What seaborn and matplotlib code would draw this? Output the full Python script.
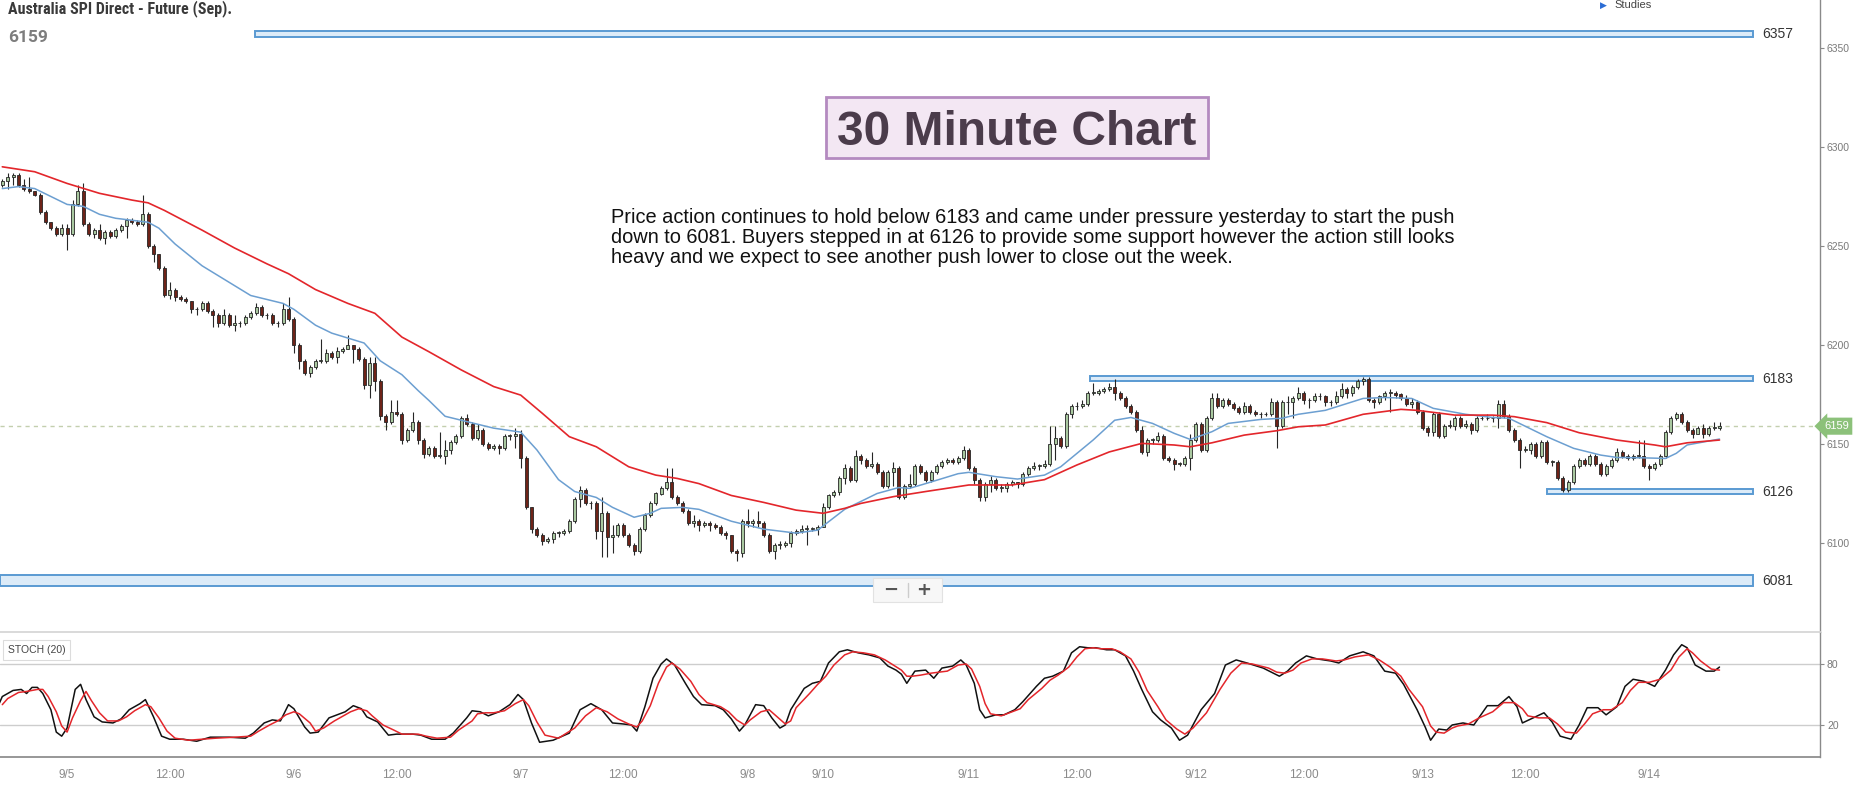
import matplotlib
matplotlib.use("Agg")
import numpy as np
import pandas as pd
import matplotlib.pyplot as plt
from matplotlib.patches import Rectangle
from matplotlib.lines import Line2D
from matplotlib import font_manager
import seaborn as sns

# ---- values: 30 minute bars, 9/4 night session to 9/14 morning ----
first_open = 6281
closes = [6283, 6285, 6286, 6281, 6279, 6278, 6276, 6267, 6262, 6259,
          6256, 6259, 6256, 6271, 6278, 6261, 6256, 6258, 6254, 6257,
          6255, 6258, 6260, 6263, 6262, 6261, 6266, 6250, 6246, 6239,
          6225, 6228, 6224, 6223, 6222, 6218, 6218, 6221, 6217, 6215,
          6211, 6215, 6210, 6211, 6211, 6214, 6216, 6219, 6215, 6215,
          6211, 6211, 6218, 6213, 6200, 6192, 6186, 6189, 6192, 6192,
          6196, 6194, 6197, 6198, 6200, 6198, 6193, 6180, 6191, 6182,
          6164, 6161, 6166, 6165, 6152, 6157, 6161, 6152, 6145, 6148,
          6144, 6144, 6147, 6151, 6154, 6163, 6160, 6153, 6157, 6150,
          6148, 6149, 6148, 6154, 6154, 6155, 6143, 6118, 6107, 6104,
          6101, 6102, 6105, 6105, 6106, 6111, 6122, 6127, 6120, 6120,
          6106, 6115, 6103, 6104, 6109, 6104, 6099, 6096, 6107, 6114,
          6120, 6125, 6128, 6131, 6123, 6120, 6116, 6110, 6111, 6109,
          6110, 6109, 6108, 6105, 6104, 6096, 6095, 6111, 6110, 6111,
          6110, 6104, 6096, 6099, 6099, 6100, 6105, 6106, 6107, 6107,
          6107, 6108, 6118, 6124, 6126, 6133, 6138, 6132, 6144, 6142,
          6139, 6140, 6136, 6129, 6136, 6138, 6123, 6129, 6130, 6139,
          6136, 6132, 6136, 6139, 6141, 6142, 6141, 6143, 6147, 6138,
          6132, 6123, 6130, 6132, 6128, 6128, 6130, 6131, 6130, 6135,
          6138, 6139, 6139, 6140, 6150, 6153, 6149, 6165, 6169, 6169,
          6170, 6176, 6176, 6177, 6178, 6179, 6176, 6173, 6169, 6166,
          6157, 6146, 6152, 6152, 6154, 6143, 6142, 6140, 6140, 6143,
          6152, 6160, 6147, 6163, 6173, 6169, 6172, 6170, 6168, 6166,
          6169, 6166, 6165, 6165, 6165, 6171, 6159, 6171, 6171, 6173,
          6176, 6172, 6172, 6174, 6174, 6171, 6171, 6174, 6178, 6176,
          6179, 6182, 6183, 6172, 6171, 6174, 6176, 6176, 6175, 6173,
          6170, 6171, 6166, 6158, 6156, 6165, 6154, 6159, 6159, 6163,
          6159, 6160, 6157, 6163, 6163, 6163, 6163, 6170, 6164, 6157,
          6152, 6147, 6147, 6150, 6144, 6151, 6141, 6141, 6133, 6127,
          6131, 6139, 6142, 6140, 6144, 6140, 6135, 6139, 6142, 6146,
          6144, 6143, 6144, 6144, 6139, 6138, 6140, 6144, 6156, 6163,
          6165, 6161, 6157, 6155, 6158, 6155, 6158, 6158, 6159]
highs = [6284, 6287, 6287, 6287, 6284, 6285, 6278, 6277, 6268, 6262,
         6260, 6261, 6261, 6273, 6281, 6282, 6262, 6259, 6261, 6258,
         6258, 6259, 6261, 6264, 6264, 6263, 6276, 6267, 6251, 6246,
         6240, 6232, 6229, 6225, 6224, 6222, 6219, 6222, 6222, 6218,
         6216, 6218, 6216, 6215, 6212, 6215, 6217, 6221, 6220, 6216,
         6216, 6212, 6221, 6224, 6214, 6201, 6193, 6190, 6193, 6203,
         6198, 6197, 6199, 6199, 6205, 6200, 6199, 6194, 6194, 6194,
         6183, 6165, 6172, 6172, 6166, 6158, 6166, 6162, 6153, 6149,
         6149, 6156, 6152, 6152, 6155, 6164, 6165, 6161, 6160, 6158,
         6151, 6150, 6150, 6155, 6155, 6158, 6157, 6144, 6118, 6108,
         6105, 6103, 6106, 6106, 6107, 6112, 6123, 6129, 6128, 6121,
         6121, 6123, 6116, 6109, 6110, 6110, 6105, 6100, 6108, 6115,
         6121, 6126, 6129, 6138, 6138, 6124, 6121, 6117, 6114, 6112,
         6111, 6111, 6110, 6109, 6106, 6104, 6097, 6112, 6117, 6112,
         6116, 6111, 6105, 6100, 6101, 6101, 6106, 6107, 6109, 6109,
         6108, 6109, 6120, 6125, 6127, 6134, 6140, 6139, 6147, 6145,
         6143, 6146, 6141, 6137, 6137, 6141, 6139, 6130, 6135, 6140,
         6140, 6137, 6137, 6140, 6142, 6143, 6143, 6144, 6149, 6148,
         6139, 6133, 6131, 6134, 6133, 6130, 6131, 6132, 6131, 6136,
         6139, 6141, 6140, 6142, 6159, 6159, 6154, 6166, 6170, 6171,
         6172, 6177, 6181, 6178, 6179, 6181, 6183, 6177, 6174, 6170,
         6167, 6159, 6153, 6153, 6156, 6155, 6144, 6143, 6141, 6144,
         6155, 6161, 6161, 6164, 6176, 6176, 6173, 6173, 6171, 6169,
         6171, 6170, 6167, 6166, 6166, 6173, 6172, 6172, 6174, 6174,
         6179, 6177, 6173, 6176, 6176, 6175, 6172, 6177, 6181, 6179,
         6180, 6183, 6184, 6184, 6173, 6175, 6177, 6178, 6177, 6176,
         6175, 6173, 6172, 6167, 6159, 6166, 6166, 6160, 6162, 6164,
         6164, 6162, 6161, 6164, 6164, 6165, 6164, 6172, 6172, 6165,
         6158, 6153, 6149, 6151, 6151, 6152, 6152, 6142, 6142, 6134,
         6132, 6140, 6143, 6143, 6145, 6145, 6141, 6140, 6143, 6148,
         6147, 6145, 6145, 6152, 6152, 6140, 6141, 6145, 6157, 6164,
         6166, 6166, 6162, 6158, 6159, 6160, 6159, 6161, 6161]
lows = [6280, 6279, 6281, 6280, 6278, 6277, 6275, 6266, 6261, 6258,
        6255, 6255, 6248, 6255, 6270, 6260, 6255, 6254, 6253, 6251,
        6254, 6254, 6257, 6254, 6261, 6260, 6260, 6249, 6242, 6238,
        6224, 6223, 6222, 6222, 6221, 6216, 6215, 6217, 6216, 6209,
        6209, 6210, 6209, 6207, 6209, 6210, 6213, 6215, 6214, 6213,
        6210, 6209, 6210, 6212, 6196, 6188, 6185, 6184, 6188, 6191,
        6191, 6193, 6191, 6196, 6198, 6191, 6192, 6178, 6173, 6177,
        6162, 6157, 6160, 6164, 6150, 6151, 6156, 6150, 6143, 6144,
        6143, 6143, 6140, 6145, 6150, 6153, 6159, 6152, 6152, 6149,
        6147, 6147, 6145, 6147, 6152, 6148, 6138, 6117, 6105, 6103,
        6099, 6100, 6100, 6103, 6104, 6105, 6110, 6118, 6119, 6117,
        6102, 6093, 6093, 6095, 6103, 6103, 6098, 6094, 6095, 6106,
        6113, 6119, 6124, 6127, 6122, 6119, 6115, 6109, 6108, 6106,
        6108, 6106, 6107, 6104, 6102, 6095, 6091, 6093, 6108, 6108,
        6108, 6103, 6095, 6092, 6097, 6098, 6098, 6104, 6105, 6099,
        6106, 6104, 6108, 6117, 6123, 6124, 6130, 6131, 6131, 6140,
        6138, 6138, 6135, 6128, 6128, 6129, 6122, 6122, 6128, 6129,
        6135, 6131, 6131, 6135, 6138, 6140, 6140, 6140, 6142, 6137,
        6130, 6121, 6121, 6126, 6127, 6126, 6126, 6129, 6128, 6129,
        6134, 6137, 6137, 6138, 6139, 6142, 6148, 6148, 6163, 6167,
        6168, 6169, 6175, 6175, 6176, 6177, 6172, 6172, 6168, 6165,
        6156, 6145, 6144, 6150, 6151, 6142, 6141, 6137, 6139, 6139,
        6137, 6151, 6146, 6146, 6162, 6168, 6168, 6169, 6167, 6165,
        6165, 6165, 6164, 6163, 6164, 6164, 6148, 6158, 6165, 6163,
        6172, 6170, 6168, 6171, 6172, 6169, 6169, 6170, 6173, 6173,
        6174, 6178, 6180, 6171, 6168, 6170, 6172, 6166, 6173, 6172,
        6169, 6168, 6165, 6157, 6154, 6154, 6153, 6153, 6158, 6157,
        6158, 6158, 6155, 6156, 6162, 6162, 6161, 6158, 6163, 6156,
        6151, 6138, 6146, 6145, 6143, 6143, 6140, 6139, 6132, 6126,
        6126, 6130, 6138, 6139, 6139, 6139, 6134, 6134, 6138, 6141,
        6143, 6142, 6142, 6143, 6138, 6132, 6137, 6139, 6143, 6155,
        6162, 6160, 6156, 6153, 6155, 6153, 6154, 6157, 6157]

# moving averages, read at bar positions along the lines
blue_idx = [0, 3, 6, 9, 12, 15, 18, 21, 24, 27, 29, 32, 37, 43, 46, 52, 54, 58, 61, 67,
            70, 74, 77, 79, 82, 85, 91, 96, 99, 103, 106, 110, 113, 117, 120, 122, 126, 129, 135, 141,
            147, 151, 156, 159, 162, 166, 168, 171, 177, 179, 184, 188, 193, 196, 202, 206, 209, 213, 217, 220,
            224, 227, 233, 237, 240, 245, 252, 256, 261, 265, 271, 276, 279, 286, 291, 296, 299, 304, 308, 310,
            312, 318]
blue_ma = [6279, 6280, 6279, 6275, 6271, 6270, 6266, 6264, 6263, 6262, 6259, 6251, 6240, 6230, 6225, 6221, 6218, 6210, 6206, 6201,
           6192, 6185, 6177, 6172, 6164, 6162, 6158, 6156, 6147, 6132, 6126, 6123, 6118, 6113, 6115, 6117.5, 6118, 6117, 6111, 6107,
           6105, 6106.5, 6117, 6121, 6125, 6128, 6127.6, 6130, 6135, 6135.7, 6133.5, 6132.3, 6134.3, 6138.5, 6152, 6162, 6163.4, 6160.4, 6155.4, 6152.3,
           6156.2, 6160.4, 6162.4, 6163, 6165, 6167, 6173, 6173.5, 6173, 6168, 6165, 6163.4, 6163, 6153.7, 6147.8, 6144.4, 6143.2, 6143, 6142.7, 6145.3,
           6149.5, 6152.5]
red_idx = [0, 6, 12, 18, 24, 27, 30, 37, 43, 49, 53, 58, 64, 69, 74, 79, 85, 91, 96, 100,
           105, 110, 116, 121, 125, 129, 135, 141, 147, 152, 156, 159, 165, 171, 179, 187, 193, 199, 205, 211,
           217, 220, 224, 230, 236, 240, 245, 252, 259, 262, 269, 276, 280, 286, 292, 299, 306, 308, 312, 318]
red_ma = [6290, 6287.5, 6281.6, 6276.6, 6273.2, 6271.8, 6268, 6258, 6249, 6241, 6236, 6228, 6221, 6216, 6204, 6196.6, 6187.4, 6179, 6174.7, 6165.5,
          6153.7, 6148.6, 6138.5, 6134.3, 6132.6, 6130, 6124, 6120.5, 6116.6, 6115, 6117.5, 6120, 6123.4, 6126, 6129.3, 6129.3, 6132, 6139.4, 6146, 6150.3,
          6149.5, 6148.6, 6150.6, 6154.5, 6156.7, 6158.7, 6159.6, 6165, 6167.5, 6167, 6164.6, 6164.6, 6163.8, 6160.8, 6155.7, 6152, 6149.5, 6148.6, 6150.6, 6152]

# STOCH (20): %K (black) and %D (red)
k_idx = [-1, 0, 2, 3.5, 4.5, 5.5, 6.5, 7.5, 9, 10, 11, 12, 13.5, 14.5, 15.5, 17, 18.5, 20.5, 22, 23.5,
         25.5, 26.5, 28, 29.5, 31, 33.5, 36, 38.5, 42, 45, 46.5, 48.5, 50, 51.5, 53, 54, 56, 57, 58.5, 60.5,
         63.5, 65, 66.5, 67.5, 69.5, 71.5, 73, 76, 77.5, 79.5, 82, 83.5, 86, 87, 88.5, 90, 92, 94, 95.5, 96.5,
         98, 99.5, 102, 105, 107, 109, 111, 113, 115, 116.5, 117.5, 119, 120.5, 122, 123, 124.5, 126.5, 128, 129.5, 132,
         133.5, 135, 136.5, 137.5, 139.5, 141, 142.5, 144, 145, 146, 148.5, 150, 151.5, 153, 155, 156.5, 158.5, 160.5, 162.5, 164,
         165.5, 166.5, 167.5, 169, 171, 172.5, 174, 176, 177.5, 178.5, 180, 181, 182, 184, 185.5, 187.5, 189, 191.5, 193, 194.5,
         196.5, 198, 199.5, 201, 202.5, 204.5, 206, 208, 209.5, 211, 213, 214.5, 216.5, 218, 219.5, 222, 224.5, 226.5, 228.5, 230.5,
         233.5, 235, 236.5, 238, 239.5, 241.5, 243.5, 246, 247.5, 249.5, 252, 254, 256, 258, 259.5, 262, 263.5, 264.5, 266, 267.5,
         268.5, 270.5, 272.5, 275, 277, 279, 280.5, 281.5, 283.5, 285.5, 287, 288.5, 290.5, 292, 293.5, 295.5, 297, 299, 300.5, 302,
         304, 306, 308, 309.5, 311, 312, 313.5, 315.5, 317, 318]
k_val = [36, 48, 54, 55, 51, 57, 57, 51, 35, 13, 9, 17, 55, 60, 45, 28, 23, 22, 26, 35,
         41, 45, 28, 9, 6, 6, 4, 8, 8, 7, 12, 22, 25, 24, 40, 36, 18, 12, 13, 27,
         33, 39, 36, 28, 23, 10, 11, 11, 10, 6, 6, 12, 27, 34, 33, 29, 33, 40, 50, 45,
         22, 3, 5, 12, 35, 41, 35, 22, 21, 20, 14, 38, 66, 80, 85, 79, 61, 48, 40, 39,
         35, 26, 14, 20, 40, 39, 27, 17, 20, 35, 56, 61, 63, 81, 92, 94, 91, 89, 86, 78,
         74, 70, 61, 73, 74, 66, 76, 78, 84, 79, 61, 35, 27, 30, 30, 35, 43, 58, 66, 68,
         73, 91, 97, 96, 96, 94, 94, 88, 73, 55, 33, 25, 17, 5, 10, 35, 51, 79, 84, 81,
         76, 72, 68, 73, 81, 88, 85, 83, 81, 88, 92, 88, 73, 71, 60, 35, 18, 5, 16, 15,
         20, 22, 20, 39, 39, 48, 38, 22, 27, 32, 23, 9, 6, 20, 37, 37, 30, 38, 58, 65,
         63, 58, 74, 89, 99, 96, 79, 73, 73, 77]
d_idx = [0, 1, 3, 4.5, 5.5, 6.5, 7.5, 8.5, 10, 11, 12, 13, 14.5, 15.5, 16.5, 18, 19.5, 21.5, 23, 24.5,
         26.5, 27.5, 29, 30.5, 32, 34.5, 37, 39.5, 43, 46, 47.5, 49.5, 51, 52.5, 54, 55, 57, 58, 59.5, 61.5,
         64.5, 66, 67.5, 68.5, 70.5, 72.5, 74, 77, 78.5, 80.5, 83, 84.5, 87, 88, 89.5, 91, 93, 95, 96.5, 97.5,
         99, 100.5, 103, 106, 108, 110, 112, 114, 116, 117.5, 118.5, 120, 121.5, 123, 124, 125.5, 127.5, 129, 130.5, 133,
         134.5, 136, 137.5, 138.5, 140.5, 142, 143.5, 145, 146, 147, 149.5, 151, 152.5, 154, 156, 157.5, 159.5, 161.5, 163.5, 165,
         166.5, 167.5, 168.5, 170, 172, 173.5, 175, 177, 178.5, 179.5, 181, 182, 183, 185, 186.5, 188.5, 190, 192.5, 194, 195.5,
         197.5, 199, 200.5, 202, 203.5, 205.5, 207, 209, 210.5, 212, 214, 215.5, 217.5, 219, 220.5, 223, 225.5, 227.5, 229.5, 231.5,
         234.5, 236, 237.5, 239, 240.5, 242.5, 244.5, 247, 248.5, 250.5, 253, 255, 257, 259, 260.5, 263, 264.5, 265.5, 267, 268.5,
         269.5, 271.5, 273.5, 276, 278, 280, 281.5, 282.5, 284.5, 286.5, 288, 289.5, 291.5, 293, 294.5, 296.5, 298, 300, 301.5, 303,
         305, 307, 309, 310.5, 312, 313, 314.5, 316.5, 318]
d_val = [40, 46, 52, 53, 54, 55, 55, 48, 33, 19, 13, 27, 44, 53, 44, 32, 24, 24, 28, 34,
         40, 38, 27, 14, 7, 5, 6, 7, 8, 9, 14, 20, 24, 30, 33, 31, 22, 14, 17, 24,
         33, 36, 34, 29, 20, 15, 11, 11, 9, 7, 8, 15, 24, 31, 32, 32, 34, 41, 45, 39,
         23, 10, 7, 17, 29, 37, 33, 26, 21, 18, 24, 39, 61, 77, 81, 75, 63, 50, 42, 38,
         33, 25, 20, 25, 33, 35, 28, 21, 24, 37, 51, 60, 68, 79, 89, 92, 91, 89, 84, 79,
         74, 68, 68, 69, 71, 72, 73, 79, 80, 75, 58, 41, 31, 29, 32, 36, 45, 56, 64, 69,
         77, 87, 95, 96, 95, 95, 92, 85, 72, 54, 38, 25, 16, 11, 17, 32, 55, 71, 81, 80,
         76, 72, 71, 74, 81, 85, 85, 83, 84, 87, 89, 84, 77, 68, 55, 38, 19, 13, 12, 17,
         19, 21, 27, 33, 42, 42, 36, 29, 27, 27, 21, 13, 12, 21, 31, 35, 35, 42, 54, 62,
         62, 65, 74, 87, 95, 91, 83, 75, 74]

levels = [6357, 6183, 6126, 6081]
last_price = 6159
price_ticks = [6100, 6150, 6200, 6250, 6300, 6350]
stoch_ticks = [20, 80]
tick_bars = [12, 31, 54, 73, 96, 115, 138, 152, 179, 199, 221, 241, 263, 282, 305]
tick_labels = ["9/5", "12:00", "9/6", "12:00", "9/7", "12:00", "9/8", "9/10",
               "9/11", "12:00", "9/12", "12:00", "9/13", "12:00", "9/14"]
title = "Australia SPI Direct - Future (Sep)."
banner = "30 Minute Chart"
note_lines = ["Price action continues to hold below 6183 and came under pressure yesterday to start the push",
              "down to 6081. Buyers stepped in at 6126 to provide some support however the action still looks",
              "heavy and we expect to see another push lower to close out the week."]

# ---- layout (pixels of the 1857x786 picture) ----
W, H = 1857, 786
bar_px, bar0_px, axis_px = 5.4, 2.3, 1820
px_per_pt = 1.98
main_bottom, stoch_bottom = 632, 757

sns.set_theme(style="white")
plt.rcParams["font.family"] = ["Liberation Sans", "DejaVu Sans"]
installed = {f.name for f in font_manager.fontManager.ttflist}
narrow = next((n for n in ["Roboto Condensed", "Liberation Sans Narrow", "Open Sans Condensed"]
               if n in installed), None)


def fx(px):
    return px / W


def fy(py):
    return 1 - py / H


fig = plt.figure(figsize=(W / 100, H / 100), dpi=100)
fig.patch.set_facecolor("white")
ax = fig.add_axes([0, fy(main_bottom), fx(axis_px), main_bottom / H])
ax2 = fig.add_axes([0, fy(stoch_bottom), fx(axis_px), (stoch_bottom - main_bottom) / H], sharex=ax)

x_lo = -bar0_px / bar_px
x_hi = (axis_px - bar0_px) / bar_px
ax.set_xlim(x_lo, x_hi)
ax.set_ylim(6350 - (main_bottom - 48) / px_per_pt, 6350 + 48 / px_per_pt)
ax2.set_ylim(-11.5, 111.5)

# support / resistance bands
band_x0 = [46.8, 201.4, 286.1, x_lo]
band_x1 = 324.2
band_half = [1.6, 1.3, 1.3, 2.8]
for lvl, x0, hh in zip(levels, band_x0, band_half):
    ax.add_patch(Rectangle((x0, lvl - hh), band_x1 - x0, 2 * hh, facecolor="#dcebf8",
                           edgecolor="#5a9ad2", linewidth=1.4, zorder=1))
    ax.text(326, lvl, str(lvl), ha="left", va="center", fontsize=10, color="#333333", zorder=6)

ax.axhline(last_price, color="#c3cfae", lw=1, ls=(0, (3, 3)), zorder=0.5)

# candles
df = pd.DataFrame({"bar": np.arange(len(closes)), "close": closes, "high": highs, "low": lows})
df["open"] = [first_open] + closes[:-1]
rising = df["close"] >= df["open"]
body_low = df[["open", "close"]].min(axis=1)
body_h = (df["close"] - df["open"]).abs().clip(lower=0.35)
ax.vlines(df["bar"], df["low"], df["high"], color="#262626", lw=0.8, zorder=3)
ax.bar(df["bar"], body_h, bottom=body_low, width=0.58,
       color=np.where(rising, "#a9c8a0", "#6e2318"), edgecolor="#262626", linewidth=0.6, zorder=4)

# moving averages
sns.lineplot(x=blue_idx, y=blue_ma, ax=ax, color="#6c9fd1", linewidth=1.1, zorder=5)
sns.lineplot(x=red_idx, y=red_ma, ax=ax, color="#e3262b", linewidth=1.2, zorder=5)

# stochastic panel
for lv in stoch_ticks:
    ax2.axhline(lv, color="#cdcdcd", lw=1, zorder=0)
sns.lineplot(x=d_idx, y=d_val, ax=ax2, color="#e3262b", linewidth=1.1, zorder=3)
sns.lineplot(x=k_idx, y=k_val, ax=ax2, color="#111111", linewidth=1.1, zorder=2)

# axes styling
for a in (ax, ax2):
    a.set_xlabel("")
    a.set_ylabel("")
    a.yaxis.tick_right()
    a.spines["left"].set_visible(False)
    a.spines["right"].set_color("#8a8a8a")
    a.spines["right"].set_linewidth(1)
    a.tick_params(axis="y", direction="out", length=3, width=0.8, color="#8a8a8a",
                  labelsize=7.5, labelcolor="#7a7a7a", pad=2)
    a.grid(False)
    a.set_facecolor("none")
ax.spines["top"].set_visible(False)
ax.spines["bottom"].set_visible(False)
ax.set_yticks(price_ticks)
ax.tick_params(axis="x", bottom=False, labelbottom=False)
ax2.spines["top"].set_color("#d5d5d5")
ax2.spines["bottom"].set_color("#8a8a8a")
ax2.set_yticks(stoch_ticks)
ax2.set_xticks(tick_bars)
ax2.set_xticklabels(tick_labels)
ax2.tick_params(axis="x", direction="out", length=5, width=0.8, color="#8a8a8a",
                labelsize=8.5, labelcolor="#8a8a8a", pad=4)

# last price tag on the axis
ax.annotate(str(last_price), xy=(fx(1824), last_price), xycoords=("figure fraction", "data"),
            ha="left", va="center", fontsize=8, color="white", annotation_clip=False, zorder=7,
            bbox=dict(boxstyle="larrow,pad=0.32", fc="#8cc17a", ec="none"))

# header texts
title_kw = dict(family=[narrow, "Roboto"], fontsize=11.5) if narrow else dict(family=["Roboto"], fontsize=8.8)
fig.text(fx(8), fy(9), title, ha="left", va="center", weight="bold", color="#3a3a3a", **title_kw)
fig.text(fx(8), fy(37), str(last_price), ha="left", va="center", fontsize=12.5, weight="bold",
         color="#7d7d7d", family=["Roboto", "DejaVu Sans"])
fig.text(fx(1600), fy(5), "\u25b6", ha="left", va="center", fontsize=6.5, color="#2b6cd4",
         family=["DejaVu Sans"])
fig.text(fx(1614), fy(5), "Studies", ha="left", va="center", fontsize=8, color="#444444")

# title banner
fig.patches.append(Rectangle((fx(826), fy(158)), fx(1208) - fx(826), 61 / H, transform=fig.transFigure,
                             facecolor="#f3e7f3", edgecolor="#b48ac0", linewidth=2))
fig.text(fx(1017), fy(145), banner, ha="center", va="baseline", fontsize=34.5, weight="bold",
         color="#4b3c4b")

# commentary
for i, line in enumerate(note_lines):
    fig.text(fx(611), fy(223 + 20 * i), line, ha="left", va="baseline", fontsize=14.4, color="#111111")

# study label
fig.text(fx(8), fy(650), "STOCH (20)", ha="left", va="center", fontsize=7.5, color="#444444",
         bbox=dict(boxstyle="square,pad=0.45", fc="white", ec="#dcdcdc", lw=0.8))

# zoom control
fig.patches.append(Rectangle((fx(873), fy(602)), fx(942) - fx(873), 24 / H, transform=fig.transFigure,
                             facecolor="#f7f7f7", edgecolor="#e2e2e2", linewidth=0.8))
fig.lines.append(Line2D([fx(907.5), fx(907.5)], [fy(583), fy(597)], transform=fig.transFigure,
                        color="#cccccc", lw=1))
fig.text(fx(891), fy(590), "\u2212", ha="center", va="center", fontsize=13, weight="bold", color="#555555",
         family=["DejaVu Sans"])
fig.text(fx(924), fy(590), "+", ha="center", va="center", fontsize=13, weight="bold", color="#555555",
         family=["DejaVu Sans"])

fig.savefig("out.png", dpi=100)
